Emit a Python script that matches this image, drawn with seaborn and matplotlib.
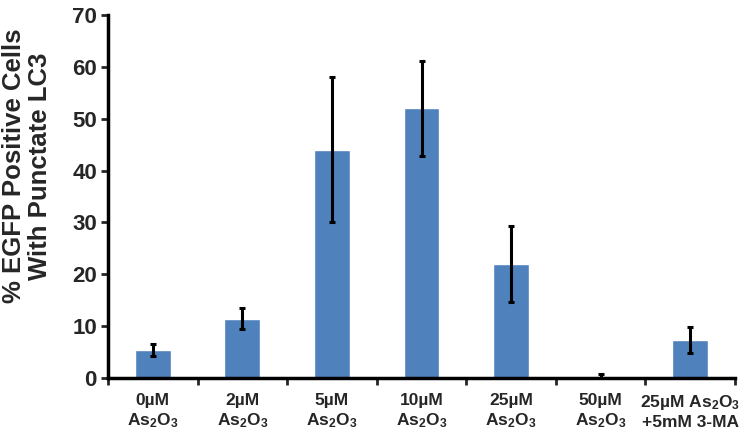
import numpy as np
import pandas as pd
import seaborn as sns
import matplotlib
matplotlib.use("Agg")
import matplotlib.pyplot as plt

labels = ["0\u00b5M\nAs$_2$O$_3$", "2\u00b5M\nAs$_2$O$_3$", "5\u00b5M\nAs$_2$O$_3$",
          "10\u00b5M\nAs$_2$O$_3$", "25\u00b5M\nAs$_2$O$_3$", "50\u00b5M\nAs$_2$O$_3$",
          "25\u00b5M As$_2$O$_3$\n+5mM 3-MA"]
values = [5.4, 11.4, 44.0, 52.0, 22.0, 0.0, 7.3]
errors = [1.2, 2.0, 14.0, 9.2, 7.3, 0.8, 2.5]

sns.set_style("white")
plt.rcParams["font.family"] = ["Liberation Sans", "DejaVu Sans"]
plt.rcParams["font.weight"] = "bold"
plt.rcParams["mathtext.fontset"] = "custom"
plt.rcParams["mathtext.rm"] = "Liberation Sans:bold"
plt.rcParams["mathtext.it"] = "Liberation Sans:bold"
plt.rcParams["mathtext.bf"] = "Liberation Sans:bold"

df = pd.DataFrame({"group": labels, "value": values})

fig, ax = plt.subplots(figsize=(7.5, 4.4), dpi=100)
fig.subplots_adjust(left=0.144, right=0.98, bottom=0.141, top=0.966)

sns.barplot(data=df, x="group", y="value", color="#4F81BD", saturation=1,
            width=0.4, ax=ax)
x = np.arange(len(labels))
ax.errorbar(x, values, yerr=errors, fmt="none", ecolor="black",
            elinewidth=2.2, capsize=2.5, capthick=2.2)

ax.set_ylim(0, 70)
ax.set_xlim(-0.5, len(labels) - 0.5)
ax.set_yticks(range(0, 71, 10))
ax.tick_params(axis="y", labelsize=16, direction="out", length=5, width=2, left=True, pad=3)
ax.tick_params(axis="x", which="major", labelsize=12.5, length=0, pad=11)
ax.set_xticks(np.arange(-0.5, len(labels), 1), minor=True)
ax.tick_params(axis="x", which="minor", direction="out", length=5, width=2, bottom=True)
for t in ax.get_yticklabels() + ax.get_xticklabels():
    t.set_fontweight("bold")

ax.set_xlabel("")
ax.set_ylabel("% EGFP Positive Cells\nWith Punctate LC3", fontsize=18.5,
              fontweight="bold", linespacing=1.1)
ax.yaxis.set_label_coords(-0.089, 0.584)

for side in ["top", "right"]:
    ax.spines[side].set_visible(False)
for side in ["left", "bottom"]:
    ax.spines[side].set_linewidth(2.5)
    ax.spines[side].set_color("black")

fig.savefig("out.png", dpi=100)
